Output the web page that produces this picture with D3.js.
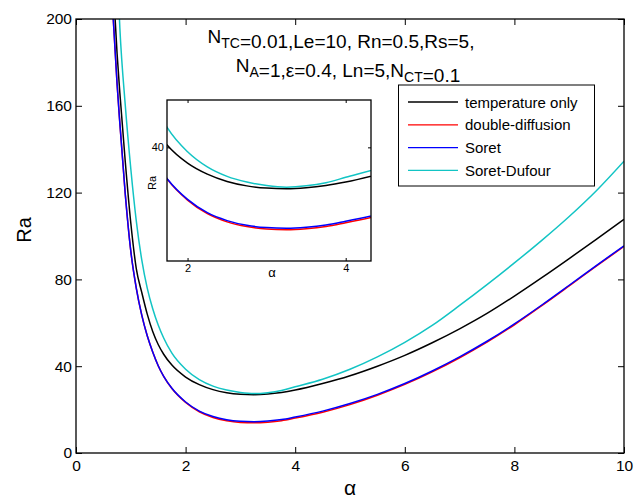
<!DOCTYPE html>
<html>
<head>
<meta charset="utf-8">
<script src="https://cdn.jsdelivr.net/npm/d3@7"></script>
<style>
  body { margin: 0; background: #fff; }
  text { font-family: "Liberation Sans", Arial, Helvetica, sans-serif; }
</style>
</head>
<body>
<div id="chart"></div>
<script>
// wavenumber values
const alpha = [0.68, 0.75, 0.8, 0.9, 1.0, 1.1, 1.2, 1.3, 1.4, 1.5, 1.6, 1.75, 2.0, 2.25, 2.5, 2.75,
  3.0, 3.25, 3.5, 3.75, 4.0, 4.5, 5.0, 5.5, 6.0, 6.5, 7.0, 7.5, 8.0, 8.5, 9.0, 9.5, 10];

const tempOnly = [215, 184, 166, 134, 106, 85, 74, 64, 56, 50, 45.5, 40.5, 35, 31.5, 29.2, 27.8,
  27.1, 26.9, 27.2, 27.9, 29, 32, 35.6, 40, 45, 50.8, 57.2, 64.3, 72.3, 80.8, 89.6, 98.6, 107.7];
const doubleDiff = [200, 170, 152, 119, 93, 76, 63.5, 54, 46.5, 40.2, 35.3, 29.7, 23.3, 19.0, 16.4, 14.9,
  14.1, 13.9, 14.2, 14.9, 16.1, 18.8, 22.3, 26.6, 31.6, 37.4, 43.9, 51.1, 59.1, 67.9, 77.0, 86.2, 95.2];
const soret = [200, 170, 152, 119, 93, 76, 63.5, 54, 46.5, 40.2, 35.3, 29.8, 23.5, 19.3, 16.8, 15.3,
  14.6, 14.4, 14.7, 15.4, 16.6, 19.3, 22.8, 27, 32, 37.8, 44.3, 51.5, 59.5, 68.2, 77.3, 86.5, 95.5];
const soretDufour = [270, 225, 196, 160, 131, 107, 89, 76, 66.5, 59, 53, 46, 38.6, 33.8, 30.8, 29,
  27.9, 27.4, 27.8, 28.8, 30.5, 34, 38.6, 44.3, 51, 58.8, 68, 77.6, 87.6, 98, 109, 121, 134.5];

const seriesNames = ["temperature only", "double-diffusion", "Soret", "Soret-Dufour"];
const seriesColors = ["#000000", "#ff0000", "#0000ff", "#12c4c4"];
const seriesVals = [tempOnly, doubleDiff, soret, soretDufour];

const xTicks = [0, 2, 4, 6, 8, 10];
const yTicks = [0, 40, 80, 120, 160, 200];
const insetXTicks = [2, 4];
const insetYTicks = [40];

const W = 644, H = 499;
const plot = {left: 76, right: 624, top: 19, bottom: 453};
const ins = {left: 167, right: 371, top: 100, bottom: 261};

const svg = d3.select("#chart")
  .append("svg")
  .attr("width", W)
  .attr("height", H);

const series = seriesVals.map((vals, i) => ({
  name: seriesNames[i],
  color: seriesColors[i],
  pts: alpha.map((a, j) => ({a: a, v: vals[j]}))
}));

const x = d3.scaleLinear().domain([0, 10]).range([plot.left, plot.right]);
const y = d3.scaleLinear().domain([0, 200]).range([plot.bottom, plot.top]);

const defs = svg.append("defs");
defs.append("clipPath").attr("id", "clipMain")
  .append("rect")
  .attr("x", plot.left).attr("y", plot.top)
  .attr("width", plot.right - plot.left).attr("height", plot.bottom - plot.top);
defs.append("clipPath").attr("id", "clipInset")
  .append("rect")
  .attr("x", ins.left).attr("y", ins.top)
  .attr("width", ins.right - ins.left).attr("height", ins.bottom - ins.top);

// main curves
const line = d3.line().x(d => x(d.a)).y(d => y(d.v)).curve(d3.curveMonotoneX);
svg.append("g")
  .attr("clip-path", "url(#clipMain)")
  .selectAll("path")
  .data(series)
  .join("path")
  .attr("d", d => line(d.pts))
  .attr("fill", "none")
  .attr("stroke", d => d.color)
  .attr("stroke-width", 1.5);

// axes, ticks pointing inwards on every side
function boxAxes(g, xs, ys, xt, yt, tickLen, fontSize, padX, padY) {
  const [x0, x1] = xs.range();
  const [y0, y1] = ys.range();
  g.append("rect")
    .attr("x", x0).attr("y", y1)
    .attr("width", x1 - x0).attr("height", y0 - y1)
    .attr("fill", "none").attr("stroke", "#000").attr("stroke-width", 1.3);
  g.append("g")
    .attr("transform", `translate(0,${y0})`)
    .call(d3.axisBottom(xs).tickValues(xt).tickFormat(d3.format("d")).tickSizeInner(-tickLen).tickSizeOuter(0).tickPadding(padX))
    .call(a => a.select(".domain").remove());
  g.append("g")
    .attr("transform", `translate(0,${y1})`)
    .call(d3.axisTop(xs).tickValues(xt).tickSizeInner(-tickLen).tickSizeOuter(0).tickFormat(""))
    .call(a => a.select(".domain").remove());
  g.append("g")
    .attr("transform", `translate(${x0},0)`)
    .call(d3.axisLeft(ys).tickValues(yt).tickFormat(d3.format("d")).tickSizeInner(-tickLen).tickSizeOuter(0).tickPadding(padY))
    .call(a => a.select(".domain").remove());
  g.append("g")
    .attr("transform", `translate(${x1},0)`)
    .call(d3.axisRight(ys).tickValues(yt).tickSizeInner(-tickLen).tickSizeOuter(0).tickFormat(""))
    .call(a => a.select(".domain").remove());
  g.selectAll(".tick line").attr("stroke", "#000");
  g.selectAll(".tick text")
    .attr("fill", "#000")
    .style("font-size", fontSize + "px")
    .style("font-family", '"Liberation Sans", Arial, sans-serif');
}

boxAxes(svg.append("g"), x, y, xTicks, yTicks, 6, 15.5, 7, 4);

svg.append("text")
  .attr("transform", "translate(31,230) rotate(-90)")
  .attr("text-anchor", "middle")
  .style("font-size", "20px")
  .text("Ra");
svg.append("text")
  .attr("x", 350).attr("y", 495)
  .attr("text-anchor", "middle")
  .style("font-size", "21px")
  .text("α");

// parameter text with subscripts
function subText(cx, cy, parts) {
  const t = svg.append("text")
    .attr("x", cx).attr("y", cy)
    .attr("text-anchor", "middle")
    .style("font-size", "19px");
  parts.forEach(p => {
    if (p.sub) {
      t.append("tspan").attr("dy", 5).style("font-size", "14px").text(p.sub);
      t.append("tspan").attr("dy", -5).text("");
    } else {
      t.append("tspan").text(p.s);
    }
  });
}
subText(341, 43, [{s: "N"}, {sub: "TC"}, {s: "=0.01,Le=10, Rn=0.5,Rs=5,"}]);
subText(348, 72, [{s: "N"}, {sub: "A"}, {s: "=1,ε=0.4, Ln=5,N"}, {sub: "CT"}, {s: "=0.1"}]);

// inset
const xi = d3.scaleLinear().domain([1.74, 4.32]).range([ins.left, ins.right]);
const yi = d3.scaleLinear().domain([4, 55]).range([ins.bottom, ins.top]);
const gi = svg.append("g");
gi.append("rect")
  .attr("x", ins.left).attr("y", ins.top)
  .attr("width", ins.right - ins.left).attr("height", ins.bottom - ins.top)
  .attr("fill", "#fff");
const lineIn = d3.line().x(d => xi(d.a)).y(d => yi(d.v)).curve(d3.curveMonotoneX);
gi.append("g")
  .attr("clip-path", "url(#clipInset)")
  .selectAll("path")
  .data(series)
  .join("path")
  .attr("d", d => lineIn(d.pts))
  .attr("fill", "none")
  .attr("stroke", d => d.color)
  .attr("stroke-width", 1.5);
boxAxes(gi, xi, yi, insetXTicks, insetYTicks, 3, 11, 3, 3);
gi.append("text")
  .attr("transform", "translate(156,183) rotate(-90)")
  .attr("text-anchor", "middle")
  .style("font-size", "11px")
  .text("Ra");
gi.append("text")
  .attr("x", 272).attr("y", 277)
  .attr("text-anchor", "middle")
  .style("font-size", "13px")
  .text("α");

// legend
const lg = svg.append("g");
lg.append("rect")
  .attr("x", 398.5).attr("y", 85)
  .attr("width", 196).attr("height", 101)
  .attr("fill", "#fff").attr("stroke", "#000").attr("stroke-width", 1);
const rows = lg.selectAll("g.row")
  .data(series)
  .join("g")
  .attr("class", "row")
  .attr("transform", (d, i) => `translate(0,${102 + i * 22.8})`);
rows.append("line")
  .attr("x1", 408).attr("x2", 458)
  .attr("stroke", d => d.color).attr("stroke-width", 1.3);
rows.append("text")
  .attr("x", 465).attr("y", 5.5)
  .style("font-size", "15px")
  .text(d => d.name);
</script>
</body>
</html>
